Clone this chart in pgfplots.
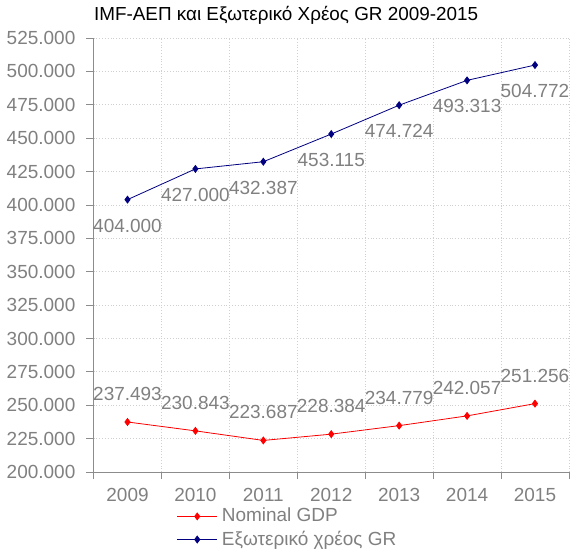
\documentclass[border=0pt]{standalone}
\usepackage{fontspec}
\setmainfont{Liberation Sans}
\usepackage{pgfplots}
\pgfplotsset{compat=1.18}
\definecolor{lblgray}{HTML}{808080}
\definecolor{gridgray}{HTML}{D0D0D0}
\definecolor{axgray}{HTML}{8C8C8C}
\definecolor{navyb}{HTML}{000080}
\begin{document}
\begin{tikzpicture}
\begin{axis}[
  scale only axis,
  width=235.5pt, height=215pt,
  xmin=0, xmax=7, ymin=200, ymax=525,
  xtick={0,...,7},
  xticklabels={2009,2010,2011,2012,2013,2014,2015},
  x tick label as interval,
  ytick={200,225,...,525},
  axis lines=left,
  axis line style={axgray, -},
  tick style={axgray, thin},
  tick align=outside,
  major tick length=3.5pt,
  grid=major,
  grid style={gridgray, densely dotted, thin},
  /pgf/number format/.cd, fixed, fixed zerofill, precision=3, assume math mode=true,
  /pgfplots/.cd,
  ticklabel style={font=\fontsize{9.4}{11}\selectfont, text=lblgray},
  yticklabel style={xshift=-2pt},
  xticklabel style={yshift=-1pt},
  title={IMF-ΑΕΠ και Εξωτερικό Χρέος GR 2009-2015},
  title style={at={(0.405,1)}, anchor=south, font=\fontsize{9.35}{11}\selectfont, yshift=-3pt},
  legend style={at={(0.41,-0.068)}, anchor=north, draw=none, fill=none,
    font=\fontsize{9.4}{9.4}\selectfont, text=lblgray, cells={anchor=west},
    row sep=-1pt, inner sep=1pt},
  legend image code/.code={\draw[#1] (0pt,0pt) -- (20pt,0pt); \draw[#1, only marks] plot coordinates {(10pt,0pt)};},
  nodes near coords,
  every node near coord/.append style={font=\fontsize{9.4}{11}\selectfont, text=lblgray},
  clip=false,
]
\addplot[red, thin, mark=diamond*, mark size=1.7pt, mark options={fill=red},
  nodes near coords align={above}, every node near coord/.append style={yshift=7pt}]
  coordinates {(0.5,237.493) (1.5,230.843) (2.5,223.687) (3.5,228.384) (4.5,234.779) (5.5,242.057) (6.5,251.256)};
\addlegendentry{Nominal GDP}
\addplot[navyb, thin, mark=diamond*, mark size=1.7pt, mark options={fill=navyb},
  nodes near coords align={below}, every node near coord/.append style={yshift=-6pt}]
  coordinates {(0.5,404.000) (1.5,427.000) (2.5,432.387) (3.5,453.115) (4.5,474.724) (5.5,493.313) (6.5,504.772)};
\addlegendentry{Εξωτερικό χρέος GR}
\end{axis}
\end{tikzpicture}
\end{document}
